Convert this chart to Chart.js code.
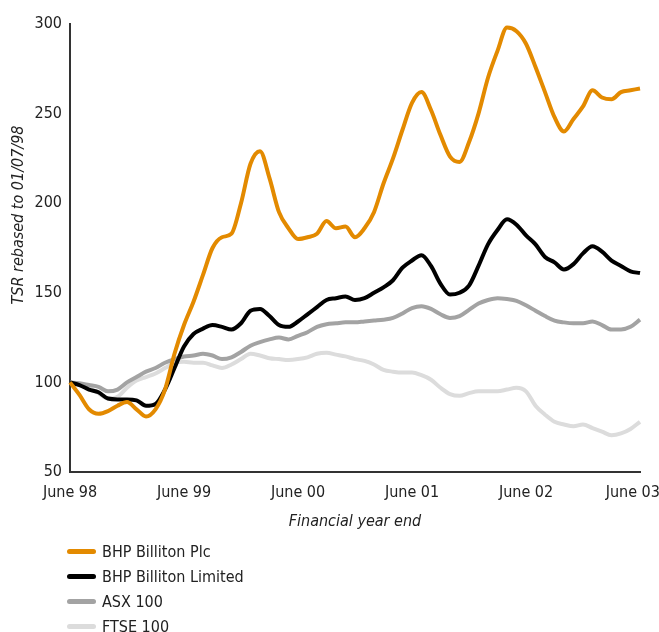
<!DOCTYPE html>
<html>
<head>
<meta charset="utf-8">
<script src="https://cdn.jsdelivr.net/npm/chart.js@4/dist/chart.umd.min.js"></script>
<style>
  html,body{margin:0;padding:0;background:#fff;}
  #wrap{position:relative;width:659px;height:632px;overflow:hidden;}
  #c{position:absolute;left:0;top:0;}
  #legend{position:absolute;left:67px;top:539px;font-family:"DejaVu Sans Condensed","DejaVu Sans",sans-serif;font-size:16px;color:#222;}
  .item{height:25px;display:flex;align-items:center;}
  .sw{width:29px;height:5px;border-radius:3px;margin-right:6px;}
</style>
</head>
<body>
<div id="wrap">
<canvas id="c" width="659" height="540"></canvas>
<div id="legend"></div>
</div>
<script>
const yearLabels = ["June 98","June 99","June 00","June 01","June 02","June 03"];
const seriesNames = ["BHP Billiton Plc","BHP Billiton Limited","ASX 100","FTSE 100"];
const colors = ["#E38A00","#000000","#A3A3A3","#DCDCDC"];

const bhpPlc = [100,93,85,82.5,84,87,89,85,81,85,96,116,132,145,160,175,181,183,200,222,
  229,214,195,186,180,181,183,190,186,187,181,186,195,211,225,241,256,262,252,238,
  226,223,234,250,270,285,298,296,289,276,262,248,240,247,254,263,259,258,262,263,264];
const bhpLimited = [100,98.5,96,94.5,91,90.5,90.5,90,87,88,96,108,120,127,130,132,131,129.5,133,140,
  141,137,132,131,134,138,142,146,147,148,146,147,150,153,157,164,168,171,165,155,
  149,150,154,165,177,185,191,188,182,177,170,167,163,166,172,176,173,168,165,162,161];
const asx100 = [100,99.5,98.5,97.5,95,96,100,103,106,108,111,113,114.5,115,116,115,113,114,117,120.5,
  122.5,124,125,124,126,128,131,132.5,133,133.5,133.5,134,134.5,135,136,138.5,141.5,142.5,141,138,
  136,137,140.5,144,146,147,146.5,145.5,143,140,137,134.5,133.5,133,133,134,132,129.5,129.5,131,135];
const ftse100 = [100,99,97,94,91,92,97,101,103,105,108,111,111.5,111,111,109.5,108,110,113,116,
  115,113.5,113,112.5,113,114,116,116.5,115.5,114.5,113,112,110,107,106,105.5,105.5,104,101.5,97,
  93.5,92.5,94,95,95,95,96,97,95,87,82,78,76.5,75.5,76.5,74.5,72.5,70.5,71.5,74,78];

const months = bhpPlc.map((_, i) => i);
const FONT = '"DejaVu Sans Condensed","DejaVu Sans",sans-serif';

const yTitle = {
  id: 'yTitle',
  afterDraw(chart) {
    const ctx = chart.ctx;
    ctx.save();
    ctx.translate(19, 215);
    ctx.rotate(-Math.PI / 2);
    ctx.font = 'italic 16px ' + FONT;
    ctx.fillStyle = '#222';
    ctx.textAlign = 'center';
    ctx.textBaseline = 'middle';
    ctx.fillText('TSR rebased to 01/07/98', 0, 0);
    ctx.restore();
  }
};

const datasets = [bhpPlc, bhpLimited, asx100, ftse100].map((d, i) => ({
  label: seriesNames[i],
  data: d,
  borderColor: colors[i],
  backgroundColor: colors[i],
  borderWidth: 4,
  pointRadius: 0,
  cubicInterpolationMode: 'monotone',
  fill: false
}));

const chart = new Chart(document.getElementById('c'), {
  type: 'line',
  data: { labels: months, datasets },
  options: {
    responsive: false,
    animation: false,
    layout: { padding: { top: 24, right: 19, left: 0, bottom: 0 } },
    plugins: { legend: { display: false }, tooltip: { enabled: false } },
    scales: {
      x: {
        type: 'category',
        offset: false,
        grid: { display: false, drawTicks: false },
        border: { display: true, color: '#333', width: 2 },
        ticks: {
          autoSkip: false, maxRotation: 0, padding: 11,
          color: '#222', font: { family: FONT, size: 16 },
          callback: (v, i) => {
            if (i % 12 !== 0) return null;
            const t = yearLabels[i / 12];
            return i === 60 ? t + '\u2002\u2002' : t;
          }
        },
        title: { display: true, text: 'Financial year end', color: '#222',
          font: { family: FONT, size: 16, style: 'italic' }, padding: { top: 4, bottom: 9 } },
        afterFit: s => { s.height = 68; s.paddingRight = 0; }
      },
      y: {
        min: 50, max: 300,
        grid: { display: false, drawTicks: false },
        border: { display: true, color: '#333', width: 2 },
        ticks: { stepSize: 50, padding: 8, color: '#222', font: { family: FONT, size: 16 } },
        afterFit: s => { s.width = 70; }
      }
    }
  },
  plugins: [yTitle]
});

const leg = document.getElementById('legend');
chart.data.datasets.forEach(ds => {
  const it = document.createElement('div');
  it.className = 'item';
  const sw = document.createElement('div');
  sw.className = 'sw';
  sw.style.background = ds.borderColor;
  const t = document.createElement('span');
  t.textContent = ds.label;
  it.appendChild(sw); it.appendChild(t);
  leg.appendChild(it);
});
</script>
</body>
</html>
